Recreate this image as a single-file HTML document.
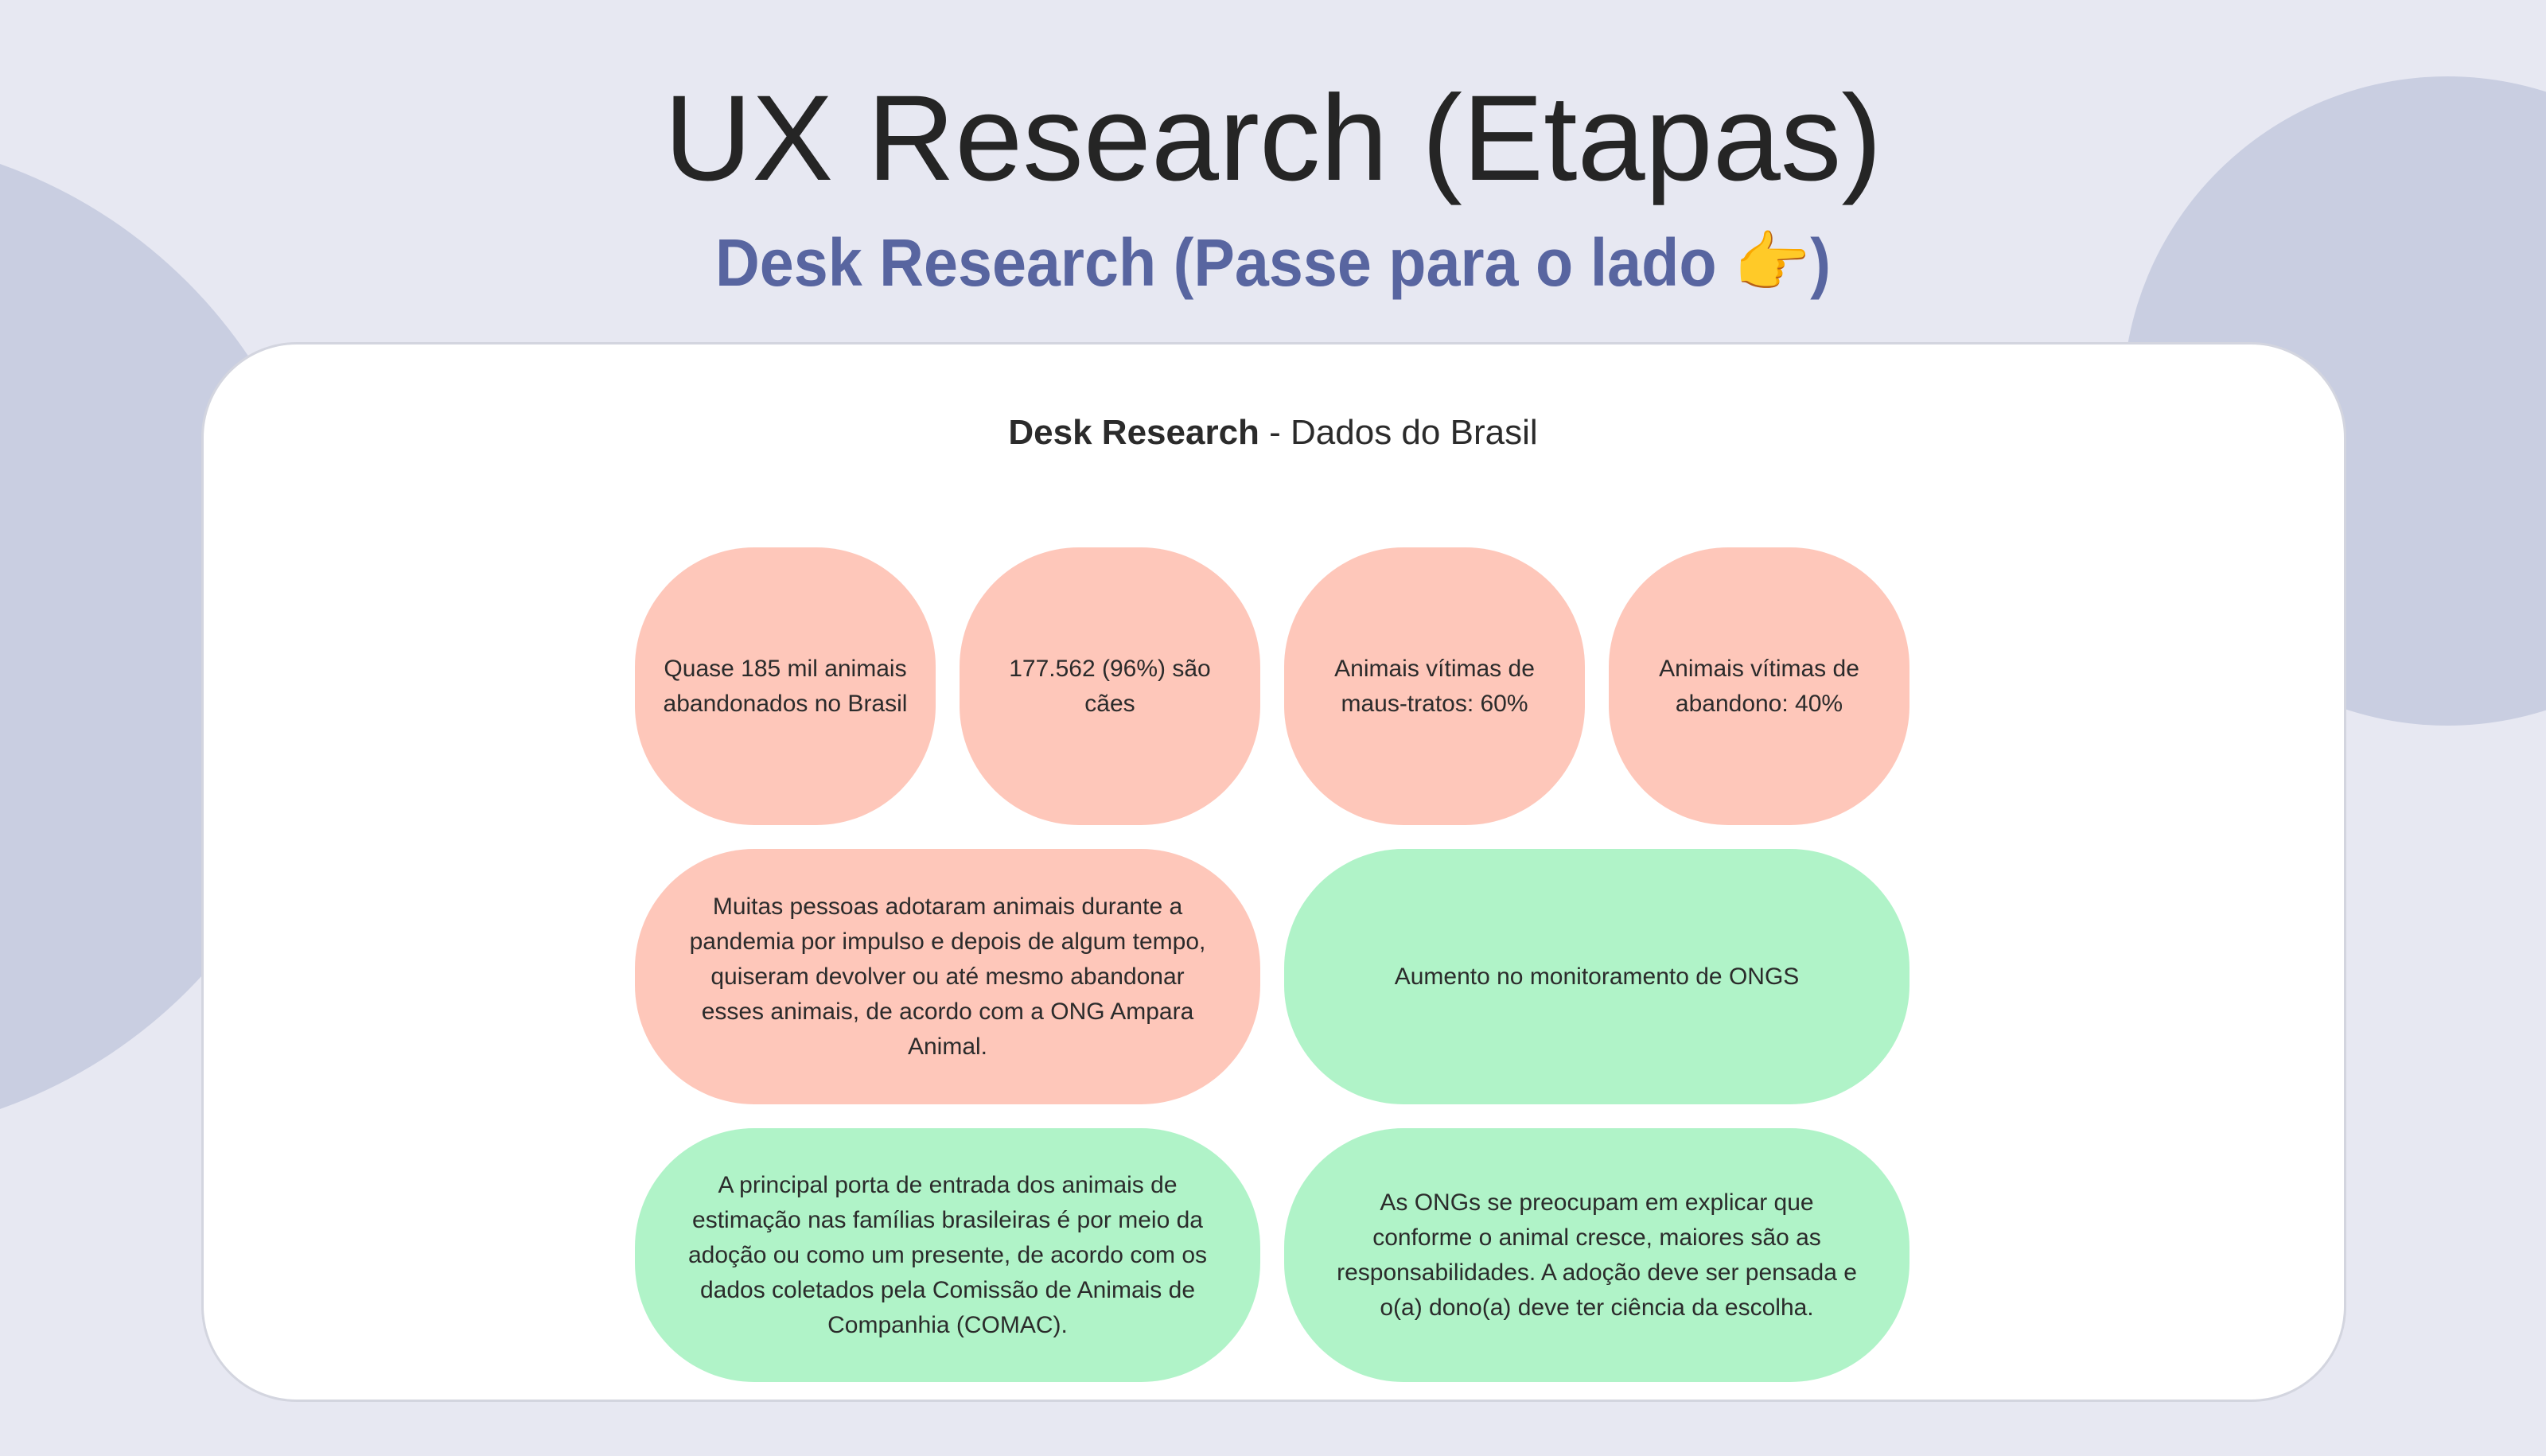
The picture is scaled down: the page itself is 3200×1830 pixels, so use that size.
<!DOCTYPE html>
<html><head><meta charset="utf-8"><style>
html,body{margin:0;padding:0}
body{width:3200px;height:1830px;background:#e7e8f2;position:relative;overflow:hidden;font-family:"Liberation Sans",sans-serif;color:#2a2a2a}
.c{position:absolute;border-radius:50%;background:#c9cee1}
.t{position:absolute;left:0;width:3200px;text-align:center;white-space:nowrap}
.card{position:absolute;left:253px;top:430px;width:2690px;height:1326px;background:#fff;border:3px solid #d3d5df;border-radius:120px}
.b{position:absolute;display:flex;align-items:center;justify-content:center;text-align:center;font-size:30px;line-height:44px;color:#2b2b2b;border-radius:150px;box-sizing:border-box;padding:0 40px}
.s{padding:0 10px;white-space:nowrap}
.p{background:#fec7ba}.g{background:#b0f3c8}
</style></head><body>
<div class="c" style="left:-840px;top:170px;width:1260px;height:1260px"></div>
<div class="c" style="left:2668px;top:96px;width:816px;height:816px"></div>
<div class="t" style="top:90px;font-size:153px;line-height:168px;color:#252525">UX Research (Etapas)</div>
<div class="t" style="top:280px;font-size:84px;line-height:100px;font-weight:bold;color:#5865a0"><span style="display:inline-block;transform:scaleX(0.92)">Desk Research (Passe para o lado 👉)</span></div>
<div class="card"></div>
<div class="t" style="top:516px;font-size:44px;line-height:56px;color:#2b2b2b"><b>Desk Research</b> - Dados do Brasil</div>
<div class="b p s" style="left:798px;top:688px;width:378px;height:349px">Quase 185 mil animais<br>abandonados no Brasil</div>
<div class="b p s" style="left:1206px;top:688px;width:378px;height:349px">177.562 (96%) são<br>cães</div>
<div class="b p s" style="left:1614px;top:688px;width:378px;height:349px">Animais vítimas de<br>maus-tratos: 60%</div>
<div class="b p s" style="left:2022px;top:688px;width:378px;height:349px">Animais vítimas de<br>abandono: 40%</div>
<div class="b p" style="left:798px;top:1067px;width:786px;height:321px;padding:0 60px">Muitas pessoas adotaram animais durante a pandemia por impulso e depois de algum tempo, quiseram devolver ou até mesmo abandonar esses animais, de acordo com a ONG Ampara Animal.</div>
<div class="b g" style="left:1614px;top:1067px;width:786px;height:321px">Aumento no monitoramento de ONGS</div>
<div class="b g" style="left:798px;top:1418px;width:786px;height:319px;padding:0 60px">A principal porta de entrada dos animais de estimação nas famílias brasileiras é por meio da adoção ou como um presente, de acordo com os dados coletados pela Comissão de Animais de Companhia (COMAC).</div>
<div class="b g" style="left:1614px;top:1418px;width:786px;height:319px;padding:0 60px">As ONGs se preocupam em explicar que conforme o animal cresce, maiores são as responsabilidades. A adoção deve ser pensada e o(a) dono(a) deve ter ciência da escolha.</div>
</body></html>
